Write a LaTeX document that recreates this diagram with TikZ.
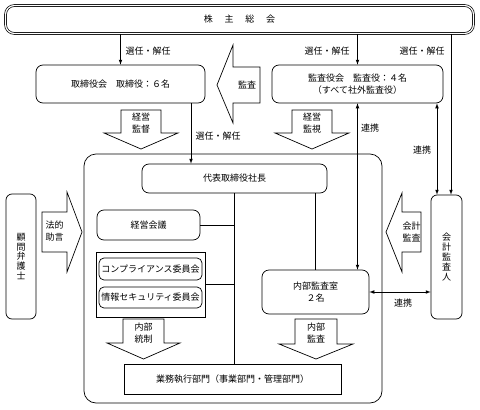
\documentclass[tikz,border=0pt]{standalone}
\usepackage{fontspec}
\setmainfont{Noto Sans CJK JP}
\usepackage{tikz}

\begin{document}
\begin{tikzpicture}[x=1pt,y=-1pt,line width=0.7pt,
    every node/.style={font=\fontsize{9}{11.5}\selectfont},
    rbox/.style={draw,rounded corners=7pt,align=center,inner sep=0pt},
    sbox/.style={draw,align=center,inner sep=0pt},
    vtext/.style={font=\fontsize{9}{9.8}\selectfont}]
    \useasboundingbox (0,0) rectangle (480,410);

    % shareholders
    \node[draw,double,double distance=1.2pt,rounded corners=9pt,inner sep=0pt,
        minimum width=468pt,minimum height=28pt] (soukai) at (239.5,19.5)
        {株\hspace{1.3em}主\hspace{1.3em}総\hspace{1.3em}会};

    \node[rbox,minimum width=169pt,minimum height=38pt] (torishimari) at (120.5,84)
        {取締役会\hspace{1em}取締役：６名};
    \node[rbox,minimum width=171pt,minimum height=38pt] (kansayaku) at (357.5,84)
        {監査役会\hspace{1em}監査役：４名\\（すべて社外監査役）};

    % company
    \draw[rounded corners=12pt] (84,154) rectangle (382,403);
    \node[rbox,minimum width=185pt,minimum height=29pt] (daihyo) at (234.5,178.5)
        {代表取締役社長};
    \node[rbox,minimum width=103pt,minimum height=30pt] (keieikaigi) at (148.5,225)
        {経営会議};
    \node[sbox,minimum width=109pt,minimum height=65pt] (iinkai) at (150.5,284.5) {};
    \node[rbox,rounded corners=5pt,minimum width=103pt,minimum height=22pt] (compliance) at (150.5,269)
        {コンプライアンス委員会};
    \node[rbox,rounded corners=5pt,minimum width=103pt,minimum height=21pt] (security) at (150.5,297.5)
        {情報セキュリティ委員会};
    \node[rbox,minimum width=107pt,minimum height=44pt] (naibukansa) at (315.5,292)
        {内部監査室\\２名};
    \node[sbox,minimum width=217pt,minimum height=30pt] (gyomu) at (232.5,379)
        {業務執行部門（事業部門・管理部門）};

    % outside
    \node[rbox,vtext,rounded corners=6pt,minimum width=30pt,minimum height=125pt] (komon) at (21,256.5)
        {顧\\問\\弁\\護\\士};
    \node[rbox,vtext,rounded corners=6pt,minimum width=31pt,minimum height=124pt] (kaikei) at (446.5,257)
        {会\\計\\監\\査\\人};

    % block arrows
    \draw (121,110) -- (161,110) -- (161,133) -- (178,133) -- (141,149) -- (104,133) -- (121,133) -- cycle;
    \node[align=center] (kantoku) at (141,123) {経営\\監督};
    \draw (292,110) -- (332,110) -- (332,133) -- (349,133) -- (312,149) -- (275,133) -- (292,133) -- cycle;
    \node[align=center] (kanshi) at (312,123) {経営\\監視};
    \draw (123,319) -- (164,319) -- (164,343) -- (180,343) -- (143.5,359) -- (107,343) -- (123,343) -- cycle;
    \node[align=center] (tosei) at (143.5,333) {内部\\統制};
    \draw (295,319) -- (337,319) -- (337,344) -- (353,344) -- (316,359) -- (279,344) -- (295,344) -- cycle;
    \node[align=center] (naibu) at (316,333) {内部\\監査};
    \draw (260,67) -- (233,67) -- (233,45) -- (217,85) -- (233,123) -- (233,103) -- (260,103) -- cycle;
    \node (kansa) at (247,85) {監査};
    \draw (42,212) -- (67,212) -- (67,192) -- (82,232) -- (67,272) -- (67,252) -- (42,252) -- cycle;
    \node[align=center] (jogen) at (54.5,231) {法的\\助言};
    \draw (421,212) -- (402,212) -- (402,193) -- (386,232) -- (402,272) -- (402,252) -- (421,252) -- cycle;
    \node[align=center] (kaikeikansa) at (411.5,232) {会計\\監査};

    % connectors
    \coordinate (kaikeiR) at ([xshift=4.5pt]kaikei.north);
    \coordinate (kaikeiL) at ([xshift=-9.5pt]kaikei.north);
    \coordinate (torishimariR) at ([xshift=70.5pt]torishimari.south);
    \draw[-latex] (soukai.south -| torishimari.north) -- (torishimari.north);
    \draw[-latex] (soukai.south -| kansayaku.north) -- (kansayaku.north);
    \draw[-latex] (soukai.south -| kaikeiR) -- (kaikeiR);
    \draw[latex-latex] (kansayaku.south -| kaikeiL) -- (kaikeiL);
    \draw[latex-latex] (kansayaku.south) -- (kansayaku.south |- naibukansa.north);
    \draw[-latex] (torishimariR) -- (torishimariR |- daihyo.north);
    \draw (daihyo.south) -- (daihyo.south |- gyomu.north);
    \draw (keieikaigi.east) -- (keieikaigi.east -| daihyo.south);
    \draw (iinkai.east) -- (iinkai.east -| daihyo.south);
    \draw (daihyo.south -| naibukansa.north) -- (naibukansa.north);
    \draw[latex-latex] (naibukansa.east) -- (naibukansa.east -| kaikei.west);

    % labels
    \node (sennin1) at (148,51) {選任・解任};
    \node (sennin2) at (327,51) {選任・解任};
    \node (sennin3) at (422,51) {選任・解任};
    \node (sennin4) at (218,136) {選任・解任};
    \node (renkei1) at (370,128) {連携};
    \node (renkei2) at (422,150) {連携};
    \node (renkei3) at (403,303) {連携};
\end{tikzpicture}
\end{document}
